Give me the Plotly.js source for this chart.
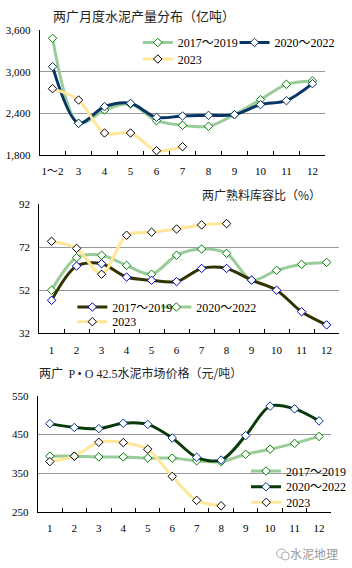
<!DOCTYPE html>
<html>
<head>
<meta charset="utf-8">
<script src="https://cdn.plot.ly/plotly-3.0.1.min.js"></script>
<style>
html,body{margin:0;padding:0;background:#fff;}
#chart{width:352px;height:568px;}
</style>
</head>
<body>
<div id="chart"></div>
<script>
// ---------- Data ----------
// Chart 1: monthly cement output (亿吨)
var months1 = ['1～2','3','4','5','6','7','8','9','10','11','12'];
var output_2017_2019 = [3480, 2256, 2448, 2534, 2294, 2227, 2213, 2381, 2597, 2818, 2866];
var output_2020_2022 = [3072, 2256, 2496, 2544, 2342, 2362, 2371, 2381, 2525, 2582, 2827];
var output_2023 = [2755, 2592, 2117, 2117, 1862, 1920];

// Chart 2: clinker storage ratio (%)
var months = ['1','2','3','4','5','6','7','8','9','10','11','12'];
var clinker_2017_2019 = [47.3, 63.2, 64.3, 58.1, 56.6, 56.0, 62.1, 62.1, 56.7, 52.0, 42.0, 35.9];
var clinker_2020_2022 = [52.0, 67.1, 68.2, 63.5, 59.4, 68.2, 71.1, 69.1, 56.7, 61.2, 64.0, 64.9];
var clinker_2023 = [74.7, 71.4, 59.4, 77.5, 78.9, 80.4, 82.3, 82.9];

// Chart 3: P·O 42.5 cement price (元/吨)
var price_2017_2019 = [394, 394, 392, 392, 389, 389, 382, 380, 399, 412, 427, 445];
var price_2020_2022 = [478, 468, 465, 479, 476, 441, 391, 384, 447, 523, 516, 485];
var price_2023 = [380, 394, 430, 429, 412, 342, 280, 266];

var seriesNames = ['2017～2019', '2020～2022', '2023'];

// ---------- Styling ----------
var W = 352, H = 568;
var SERIF = '"Liberation Serif", "Times New Roman", "Noto Sans CJK SC", serif';
var CJK = '"Noto Sans CJK SC", sans-serif';
var LGREEN = '#99CC99', NAVY = '#073566', YELLOW = '#FFE699',
    OLIVE = '#333300', DGREEN = '#0A3A0A';

function px(x){return x / W;}
function py(y){return 1 - y / H;}

function leg(mx, my){
  return {x: px(mx - 20), y: py(my - 14.5), xanchor: 'left', yanchor: 'top',
          bgcolor: 'rgba(0,0,0,0)', borderwidth: 0,
          font: {family: SERIF, size: 12, color: '#000'}};
}

function tr(x, y, name, xa, ya, lineColor, markerColor, legendId){
  return {
    x: x, y: y, name: name, xaxis: xa, yaxis: ya, type: 'scatter', mode: 'lines+markers',
    line: {color: lineColor, width: 3, shape: 'spline', smoothing: 0.9},
    marker: {symbol: 'diamond', size: 6.5, color: '#fff', line: {color: markerColor, width: 1}},
    legend: legendId, showlegend: true
  };
}

var traces = [
  tr(months1, output_2017_2019, seriesNames[0], 'x', 'y', LGREEN, '#008000', 'legend'),
  tr(months1, output_2020_2022, seriesNames[1], 'x', 'y', NAVY, NAVY, 'legend2'),
  tr(months1.slice(0, output_2023.length), output_2023, seriesNames[2], 'x', 'y', YELLOW, '#000', 'legend3'),

  tr(months, clinker_2020_2022, seriesNames[1], 'x2', 'y2', LGREEN, '#008000', 'legend5'),
  tr(months, clinker_2017_2019, seriesNames[0], 'x2', 'y2', OLIVE, '#0000CC', 'legend4'),
  tr(months.slice(0, clinker_2023.length), clinker_2023, seriesNames[2], 'x2', 'y2', YELLOW, '#000', 'legend6'),

  tr(months, price_2017_2019, seriesNames[0], 'x3', 'y3', LGREEN, '#008000', 'legend7'),
  tr(months, price_2020_2022, seriesNames[1], 'x3', 'y3', DGREEN, '#003399', 'legend8'),
  tr(months.slice(0, price_2023.length), price_2023, seriesNames[2], 'x3', 'y3', YELLOW, '#000', 'legend9')
];

function xaxisDef(dom, anchor){
  return {domain: dom, anchor: anchor, type: 'category', range: null, tickangle: 0,
    showline: true, linecolor: '#000', linewidth: 1, showgrid: false, zeroline: false,
    ticks: 'inside', tickson: 'boundaries', ticklen: 4, tickcolor: '#000', tickwidth: 1,
    tickfont: {family: SERIF, size: 11, color: '#000'}, ticklabelstandoff: 6, fixedrange: true};
}
function yaxisDef(dom, anchor, range, dtick, fmt){
  return {domain: dom, anchor: anchor, range: range, dtick: dtick, tick0: range[0],
    tickformat: fmt, showline: true, linecolor: '#000', linewidth: 1,
    showgrid: true, gridcolor: '#999', gridwidth: 1, zeroline: false, ticks: '',
    tickfont: {family: SERIF, size: 11, color: '#000'}, ticklabelstandoff: 6, fixedrange: true};
}

var xa1 = xaxisDef([px(40.5), px(333)], 'y'); xa1.range = [-0.5, 10.5];
var xa2 = xaxisDef([px(40), px(347)], 'y2'); xa2.range = [-0.5, 11.5];
var xa3 = xaxisDef([px(38.5), px(339)], 'y3'); xa3.range = [-0.5, 11.5];

var layout = {
  width: W, height: H, margin: {l: 0, r: 0, t: 0, b: 0},
  paper_bgcolor: '#fff', plot_bgcolor: 'rgba(0,0,0,0)',
  xaxis: xa1,
  yaxis: yaxisDef([py(155), py(30)], 'x', [1800, 3600], 600, ',d'),
  xaxis2: xa2,
  yaxis2: yaxisDef([py(333.3), py(204)], 'x2', [32, 92], 20, 'd'),
  xaxis3: xa3,
  yaxis3: yaxisDef([py(512), py(395.7)], 'x3', [250, 550], 100, 'd'),
  legend: leg(161, 42.5),
  legend2: leg(260, 42.5),
  legend3: leg(161, 59),
  legend4: leg(94, 307),
  legend5: leg(180, 307),
  legend6: leg(94, 321.7),
  legend7: leg(272, 471),
  legend8: leg(272, 486.7),
  legend9: leg(272, 502.3),
  shapes: [
    {type: 'rect', layer: 'between', xref: 'paper', yref: 'paper',
     x0: px(250), x1: px(339.5), y0: py(508), y1: py(462),
     fillcolor: '#fff', line: {width: 0}},
    {type: 'circle', xref: 'paper', yref: 'paper',
     x0: px(283), x1: px(293), y0: py(558), y1: py(549),
     line: {color: '#aaa', width: 1}, fillcolor: 'rgba(0,0,0,0)'},
    {type: 'circle', xref: 'paper', yref: 'paper',
     x0: px(288), x1: px(296), y0: py(560), y1: py(552),
     line: {color: '#aaa', width: 1}, fillcolor: '#fff'}
  ],
  annotations: [
    {text: '两广月度水泥产量分布（亿吨）', xref: 'paper', yref: 'paper',
     x: px(52), y: py(15), xanchor: 'left', yanchor: 'middle', showarrow: false,
     font: {family: CJK, size: 13, color: '#222'}},
    {text: '两广熟料库容比（%）', xref: 'paper', yref: 'paper',
     x: px(331), y: py(194), xanchor: 'right', yanchor: 'middle', showarrow: false,
     font: {family: CJK, size: 12, color: '#222'}},
    {text: '两广  <span style="font-family:Liberation Serif">P • O 42.5</span>水泥市场价格（元/吨）', xref: 'paper', yref: 'paper',
     x: px(38), y: py(372), xanchor: 'left', yanchor: 'middle', showarrow: false,
     font: {family: CJK, size: 12, color: '#222'}},
    {text: '水泥地理', xref: 'paper', yref: 'paper',
     x: px(348), y: py(553), xanchor: 'right', yanchor: 'middle', showarrow: false,
     font: {family: CJK, size: 12, color: '#999'}}
  ]
};

Plotly.newPlot('chart', traces, layout, {staticPlot: true, displayModeBar: false});
</script>
</body>
</html>
